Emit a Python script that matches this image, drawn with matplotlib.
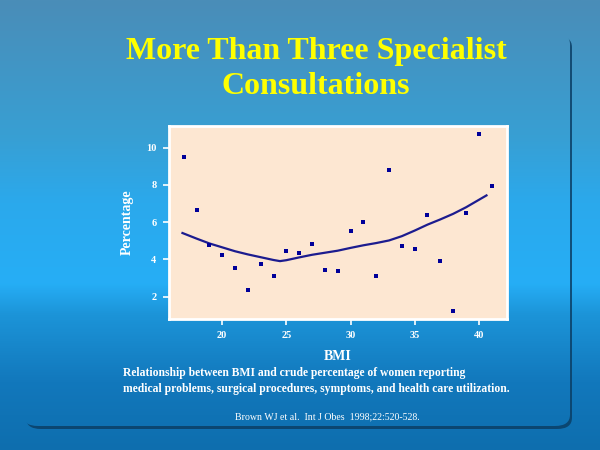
import matplotlib
matplotlib.use('Agg')
import matplotlib.pyplot as plt
import numpy as np
from matplotlib.colors import LinearSegmentedColormap
from matplotlib.patches import FancyBboxPatch

# Данные: ИМТ и процент женщин
bmi = [17, 18, 19, 20, 21, 22, 23, 24, 25, 26, 27, 28, 29,
       30, 31, 32, 33, 34, 35, 36, 37, 38, 39, 40, 41]
percent = [9.52, 6.65, 4.79, 4.22, 3.56, 2.34, 3.74, 3.13, 4.47, 4.33, 4.85, 3.45, 3.36,
           5.54, 6.03, 3.13, 8.82, 4.70, 4.58, 6.40, 3.93, 1.21, 6.51, 10.75, 7.96]

# Сглаженная кривая
curve_x = [16.9, 18, 19, 20, 21, 22, 23, 24, 24.5, 25, 26, 27, 28, 29,
           30, 31, 32, 33, 34, 35, 36, 37, 38, 39, 40, 40.6]
curve_y = [5.42, 5.12, 4.86, 4.65, 4.44, 4.27, 4.12, 3.97, 3.91, 3.96, 4.11, 4.25, 4.36, 4.47,
           4.62, 4.76, 4.88, 5.02, 5.25, 5.55, 5.87, 6.15, 6.45, 6.8, 7.2, 7.44]

title_lines = ['More Than Three Specialist', 'Consultations']
caption = ['Relationship between BMI and crude percentage of women reporting',
           'medical problems, surgical procedures, symptoms, and health care utilization.']
citation = 'Brown WJ et al.  Int J Obes  1998;22:520-528.'

serif = ['Liberation Serif', 'DejaVu Serif']

fig = plt.figure(figsize=(6, 4.5), dpi=100)

# Фон с градиентом
bg = fig.add_axes([0, 0, 1, 1])
bg.set_xlim(0, 1)
bg.set_ylim(0, 1)
bg.axis('off')
cmap = LinearSegmentedColormap.from_list(
    'bg', [(0.0, '#0e6eae'), (0.15, '#1278bc'), (0.3, '#1c94d8'), (0.37, '#26aef6'),
           (0.55, '#2ba9ec'), (0.7, '#389fd3'), (1.0, '#4a8db8')])
grad = np.linspace(0, 1, 256).reshape(-1, 1)
bg.imshow(grad, cmap=cmap, aspect='auto', extent=[0, 1, 0, 1], origin='lower', zorder=0)

# Панель с тенью
shadow = FancyBboxPatch((26 / 600, 21 / 450), 546 / 600, 393 / 450,
                        boxstyle='round,pad=0,rounding_size=0.025',
                        facecolor='#0b3f66', edgecolor='none', alpha=0.85,
                        transform=bg.transAxes, zorder=1)
bg.add_patch(shadow)
panel = FancyBboxPatch((23 / 600, 24 / 450), 547 / 600, 393 / 450,
                       boxstyle='round,pad=0,rounding_size=0.025',
                       facecolor='none', edgecolor='none',
                       transform=bg.transAxes, zorder=2)
bg.add_patch(panel)
bg.imshow(grad, cmap=cmap, aspect='auto', extent=[0, 1, 0, 1], origin='lower',
          zorder=2, clip_path=panel)

# Заголовок
bg.text(316 / 600, 1 - 52 / 450, title_lines[0], color='#ffff00', fontsize=23,
        fontweight='bold', family=serif, ha='center', va='center', zorder=5)
bg.text(316 / 600, 1 - 87 / 450, title_lines[1], color='#ffff00', fontsize=23,
        fontweight='bold', family=serif, ha='center', va='center', zorder=5)

# Подпись и ссылка
bg.text(123 / 600, 1 - 373 / 450, caption[0], color='white', fontsize=8.4,
        fontweight='bold', family=serif, ha='left', va='center', zorder=5)
bg.text(123 / 600, 1 - 389 / 450, caption[1], color='white', fontsize=8.4,
        fontweight='bold', family=serif, ha='left', va='center', zorder=5)
bg.text(327 / 600, 1 - 417 / 450, citation, color='white', fontsize=7.1,
        family=serif, ha='center', va='center', zorder=5)

# Основной график
ax = fig.add_axes([169 / 600, 1 - 319 / 450, 338 / 600, 193 / 450])
ax.set_facecolor('#fde7d2')
ax.plot(curve_x, curve_y, color='#1c1c8f', linewidth=1.6, zorder=3)
sizes = [2.3 if b == 38 else 3.5 for b in bmi]
for xv, yv, s in zip(bmi, percent, sizes):
    ax.plot(xv, yv, 's', color='#000099', markersize=s, markeredgewidth=0, zorder=4)

ax.set_xlim(15.85, 42.2)
ax.set_ylim(0.8, 11.17)
ax.set_xticks([20, 25, 30, 35, 40])
ax.set_yticks([2, 4, 6, 8, 10])
for sp in ax.spines.values():
    sp.set_color('white')
    sp.set_linewidth(2)
ax.tick_params(colors='white', length=4, width=1.2, labelsize=7.5, pad=5)
for lab in ax.get_xticklabels() + ax.get_yticklabels():
    lab.set_family(serif)
    lab.set_fontweight('bold')
ax.set_xlabel('BMI', color='white', fontsize=10, fontweight='bold', family=serif, labelpad=7)
ax.set_ylabel('Percentage', color='white', fontsize=10, fontweight='bold', family=serif, labelpad=9)

fig.savefig('out.png', dpi=100)
